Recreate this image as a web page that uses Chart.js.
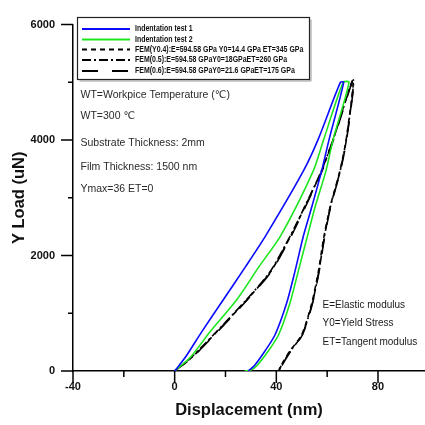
<!DOCTYPE html>
<html>
<head>
<meta charset="utf-8">
<script src="https://cdn.jsdelivr.net/npm/chart.js@4.4.1/dist/chart.umd.min.js"></script>
<style>
  html, body { margin: 0; padding: 0; background: #fff; }
  canvas { display: block; }
</style>
</head>
<body>
<canvas id="myChart" width="425" height="425"></canvas>
<script>
// valeurs : deplacement (nm) / charge (uN)
const test1X = [0, 4.2, 10.7, 19.2, 27.7, 35.9, 50.6, 56.5, 65.2, 66.5, 60.8, 57.8, 54.0, 50.6, 47.4, 44.1, 39.5, 35.6, 31.5, 29.0];
const test1Y = [0, 238, 683, 1238, 1795, 2350, 3462, 4017, 5000, 5000, 4017, 3462, 2850, 2330, 1739, 1183, 628, 350, 100, 0];

const test2X = [0, 6.2, 14.0, 24.5, 33.0, 41.8, 54.5, 58.7, 66.3, 68.6, 62.4, 59.5, 55.3, 52.0, 48.7, 45.4, 40.9, 36.9, 32.5, 30.0, 27.5];
const test2Y = [0, 238, 683, 1238, 1795, 2350, 3462, 4017, 5000, 5000, 4017, 3462, 2850, 2295, 1739, 1183, 628, 350, 100, 15, 0];

const fem04X = [0, 6.8, 16.7, 28.5, 37.6, 45.8, 51.3, 57.8, 62.4, 70.2, 67.5, 65.0, 61.2, 58.6, 56.6, 54.0, 50.0, 45.4, 41.5, 41.0];
const fem05X = [0, 6.6, 16.5, 28.3, 37.4, 45.6, 51.2, 57.7, 62.4, 70.3, 67.6, 65.1, 61.3, 58.8, 56.8, 54.2, 50.2, 45.6, 41.7, 41.2];
const fem06X = [0, 7.0, 16.9, 28.7, 37.8, 46.0, 51.5, 58.0, 62.6, 70.4, 67.7, 65.2, 61.4, 58.9, 56.9, 54.3, 50.3, 45.8, 41.9, 41.4];
const femY = [0, 238, 683, 1238, 1710, 2350, 2850, 3462, 4017, 5045, 4017, 3462, 2850, 2295, 1739, 1183, 628, 350, 72, 0];

const seriesNames = [
  "Indentation test 1",
  "Indentation test 2",
  "FEM(Y0.4):E=594.58 GPa Y0=14.4 GPa ET=345 GPa",
  "FEM(0.5):E=594.58 GPaY0=18GPaET=260 GPa",
  "FEM(0.6):E=594.58 GPaY0=21.6 GPaET=175 GPa"
];

const xMajorTicks = [-40, 0, 40, 80];
const xMinorTicks = [-20, 20, 60];
const yMajorTicks = [0, 2000, 4000, 6000];
const yMinorTicks = [1000, 3000, 5000];

const notesLeft = [
  "WT=Workpice Temperature (\u2103)",
  "WT=300 \u2103",
  "Substrate Thickness: 2mm",
  "Film Thickness: 1500 nm",
  "Ymax=36 ET=0"
];
const notesRight = ["E=Elastic modulus", "Y0=Yield Stress", "ET=Tangent modulus"];

function points(xs, ys) {
  return xs.map((x, i) => ({ x: x, y: ys[i] }));
}

// traits des graduations, legende et textes dans le graphique
const decorPlugin = {
  id: "decor",
  afterDraw(chart) {
    const ctx = chart.ctx;
    const sx = chart.scales.x, sy = chart.scales.y;
    const left = chart.chartArea.left, bottom = chart.chartArea.bottom;
    ctx.save();
    ctx.strokeStyle = "#000";
    ctx.lineWidth = 1.5;
    ctx.beginPath();
    xMajorTicks.forEach(v => { const p = sx.getPixelForValue(v); ctx.moveTo(p, bottom); ctx.lineTo(p, bottom + 12); });
    xMinorTicks.forEach(v => { const p = sx.getPixelForValue(v); ctx.moveTo(p, bottom); ctx.lineTo(p, bottom + 6); });
    yMajorTicks.forEach(v => { const p = sy.getPixelForValue(v); ctx.moveTo(left, p); ctx.lineTo(left - 12, p); });
    yMinorTicks.forEach(v => { const p = sy.getPixelForValue(v); ctx.moveTo(left, p); ctx.lineTo(left - 5, p); });
    ctx.stroke();

    // legende
    ctx.fillStyle = "#fff";
    ctx.fillRect(77.5, 17.5, 232, 62);
    ctx.strokeStyle = "#999";
    ctx.lineWidth = 1;
    ctx.beginPath();
    ctx.moveTo(311, 19.5); ctx.lineTo(311, 81); ctx.lineTo(79.5, 81);
    ctx.stroke();
    ctx.strokeStyle = "#222";
    ctx.lineWidth = 1.2;
    ctx.strokeRect(77.5, 17.5, 232, 62);
    const rowsY = [29, 39.5, 49.5, 60, 71];
    chart.data.datasets.forEach((ds, i) => {
      ctx.strokeStyle = ds.borderColor;
      ctx.lineWidth = 1.8;
      ctx.setLineDash(ds.borderDash || []);
      ctx.beginPath();
      ctx.moveTo(82, rowsY[i]);
      ctx.lineTo(130, rowsY[i]);
      ctx.stroke();
      ctx.setLineDash([]);
      ctx.fillStyle = "#111";
      ctx.font = "bold 8.5px 'Liberation Sans Narrow', 'Liberation Sans', Arial";
      ctx.textBaseline = "middle";
      ctx.textAlign = "left";
      ctx.save();
      ctx.translate(135, rowsY[i]);
      ctx.scale(0.82, 1);
      ctx.fillText(ds.label, 0, 0);
      ctx.restore();
    });

    // textes
    ctx.fillStyle = "#2a2a2a";
    ctx.font = "10.5px 'Liberation Sans', Arial, 'DejaVu Sans'";
    ctx.textBaseline = "middle";
    [95, 116, 143, 167, 189].forEach((y, i) => ctx.fillText(notesLeft[i], 80.5, y));
    ctx.fillStyle = "#1a1a1a";
    ctx.font = "10px 'Liberation Sans', Arial";
    [305, 323, 342].forEach((y, i) => ctx.fillText(notesRight[i], 322.5, y));
    ctx.restore();
  }
};

const tickFont = { family: "'Liberation Sans', Arial", size: 11, weight: "bold" };
const titleFont = { family: "'Liberation Sans', Arial", size: 16.5, weight: "bold" };

const ctx = document.getElementById("myChart");

new Chart(ctx, {
  type: "scatter",
  data: {
    datasets: [
      { label: seriesNames[0], data: points(test1X, test1Y), borderColor: "#0a0aff" },
      { label: seriesNames[1], data: points(test2X, test2Y), borderColor: "#1ee61e" },
      { label: seriesNames[2], data: points(fem04X, femY), borderColor: "#000", borderDash: [5, 4] },
      { label: seriesNames[3], data: points(fem05X, femY), borderColor: "#000", borderDash: [9, 3, 2, 3] },
      { label: seriesNames[4], data: points(fem06X, femY), borderColor: "#000", borderDash: [16, 14] }
    ].map(ds => Object.assign(ds, { showLine: true, pointRadius: 0, borderWidth: 1.6, tension: 0.25, fill: false }))
  },
  options: {
    responsive: false,
    animation: false,
    devicePixelRatio: 1,
    layout: { padding: { top: 11, right: 0, left: 0, bottom: 0 } },
    plugins: { legend: { display: false }, tooltip: { enabled: false } },
    scales: {
      x: {
        type: "linear",
        min: -40,
        max: 98.5,
        afterBuildTicks: scale => { scale.ticks = xMajorTicks.map(v => ({ value: v })); },
        afterFit: scale => { scale.height = 54; },
        grid: { display: false, drawTicks: false },
        border: { display: true, color: "#000", width: 1.5 },
        ticks: { color: "#111", padding: 9, font: tickFont, callback: v => String(v) },
        title: { display: true, text: "Displacement (nm)", color: "#111", padding: { top: 0, bottom: 5 }, font: titleFont }
      },
      y: {
        type: "linear",
        min: 0,
        max: 6000,
        afterBuildTicks: scale => { scale.ticks = yMajorTicks.map(v => ({ value: v })); },
        afterFit: scale => { scale.width = 73; },
        grid: { display: false, drawTicks: false },
        border: { display: true, color: "#000", width: 1.5 },
        ticks: { color: "#111", padding: 18, font: tickFont, callback: v => String(v) },
        title: { display: true, text: "Y Load (uN)", color: "#111", padding: { top: 10, bottom: 0 }, font: titleFont }
      }
    }
  },
  plugins: [decorPlugin]
});
</script>
</body>
</html>
